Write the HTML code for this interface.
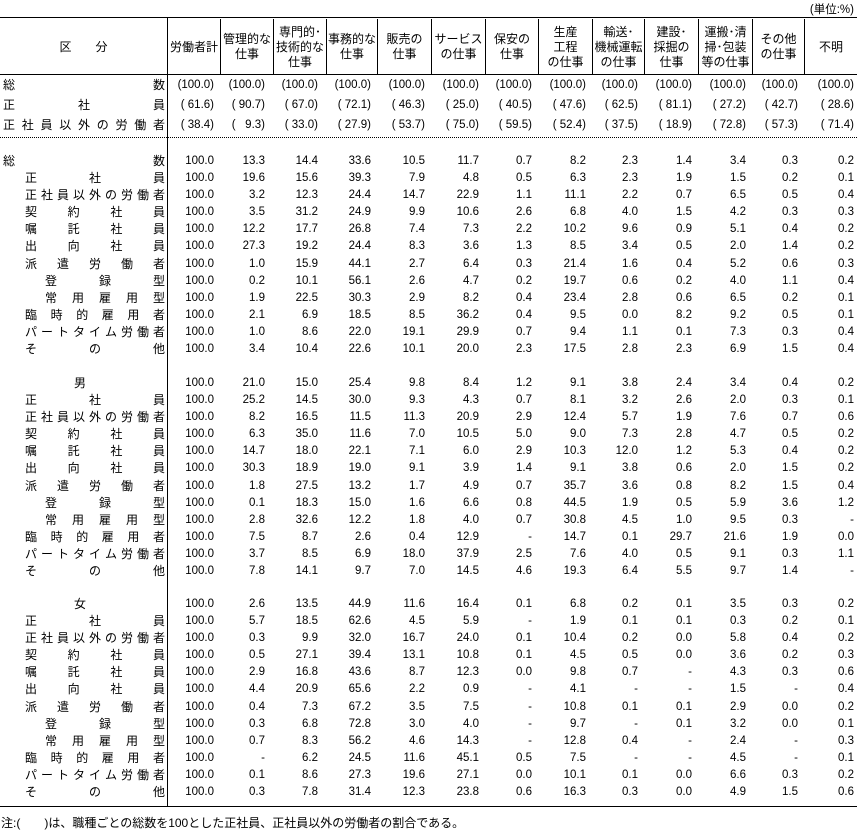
<!DOCTYPE html>
<html><head><meta charset="utf-8"><style>
*{margin:0;padding:0;box-sizing:border-box}
body{width:857px;height:834px;background:#fff;position:relative;overflow:hidden;font-family:"Liberation Sans","Noto Sans CJK JP",sans-serif;color:#000}
.hl{position:absolute;left:0;width:857px;border-top:1.5px solid #000}
.h{position:absolute;top:19px;height:56px;display:flex;align-items:center;justify-content:center;text-align:center;font-size:12px;line-height:15px;border-left:1px solid #000}
.r{position:absolute;left:0;height:17px;line-height:17px;font-size:11.5px;white-space:pre;width:857px}
.r b{position:absolute;font-weight:normal;font-size:12px;text-align:justify;text-align-last:justify;white-space:normal;height:17px;overflow:hidden}
.a{left:3px;width:162px}.b{left:25px;width:140px}.c{left:45px;width:120px}.m{left:74px;width:20px;text-align:left!important;text-align-last:auto!important}
.r i{font-style:normal;position:absolute;top:0;text-align:right;padding-right:6px}
.r i:nth-of-type(1){left:167px;width:53px}
.r i:nth-of-type(2){left:220px;width:53px;padding-right:8px}
.r i:nth-of-type(3){left:273px;width:53px;padding-right:8px}
.r i:nth-of-type(4){left:326px;width:51px}
.r i:nth-of-type(5){left:377px;width:54px}
.r i:nth-of-type(6){left:431px;width:54px}
.r i:nth-of-type(7){left:485px;width:53px}
.r i:nth-of-type(8){left:538px;width:54px}
.r i:nth-of-type(9){left:592px;width:52px}
.r i:nth-of-type(10){left:644px;width:54px}
.r i:nth-of-type(11){left:698px;width:54px}
.r i:nth-of-type(12){left:752px;width:52px}
.r i:nth-of-type(13){left:804px;width:53px;padding-right:3px}
</style></head><body>
<div style="position:absolute;right:3px;top:1px;font-size:11.5px">(単位:%)</div>
<div class="hl" style="top:17px"></div>
<div class="hl" style="top:74px;border-top-width:1px"></div>
<div style="position:absolute;left:0;top:137px;width:857px;border-top:1px dotted #000"></div>
<div class="hl" style="top:806px;border-top-width:1px"></div>
<div style="position:absolute;left:167px;top:18px;height:789px;border-left:1px solid #000"></div>
<div class="h" style="left:0;width:167px;border-left:none">区　　分</div>
<div class="h" style="left:167px;width:53px">労働者計</div>
<div class="h" style="left:220px;width:53px">管理的な<br>仕事</div>
<div class="h" style="left:273px;width:53px">専門的･<br>技術的な<br>仕事</div>
<div class="h" style="left:326px;width:51px">事務的な<br>仕事</div>
<div class="h" style="left:377px;width:54px">販売の<br>仕事</div>
<div class="h" style="left:431px;width:54px">サービス<br>の仕事</div>
<div class="h" style="left:485px;width:53px">保安の<br>仕事</div>
<div class="h" style="left:538px;width:54px">生産<br>工程<br>の仕事</div>
<div class="h" style="left:592px;width:52px">輸送･<br>機械運転<br>の仕事</div>
<div class="h" style="left:644px;width:54px">建設･<br>採掘の<br>仕事</div>
<div class="h" style="left:698px;width:54px">運搬･清<br>掃･包装<br>等の仕事</div>
<div class="h" style="left:752px;width:52px">その他<br>の仕事</div>
<div class="h" style="left:804px;width:53px">不明</div>

<div class="r" style="top:77px"><b class="a">総 数</b><i>(100.0)</i><i>(100.0)</i><i>(100.0)</i><i>(100.0)</i><i>(100.0)</i><i>(100.0)</i><i>(100.0)</i><i>(100.0)</i><i>(100.0)</i><i>(100.0)</i><i>(100.0)</i><i>(100.0)</i><i>(100.0)</i></div>
<div class="r" style="top:97px"><b class="a">正 社 員</b><i>( 61.6)</i><i>( 90.7)</i><i>( 67.0)</i><i>( 72.1)</i><i>( 46.3)</i><i>( 25.0)</i><i>( 40.5)</i><i>( 47.6)</i><i>( 62.5)</i><i>( 81.1)</i><i>( 27.2)</i><i>( 42.7)</i><i>( 28.6)</i></div>
<div class="r" style="top:117px"><b class="a">正 社 員 以 外 の 労 働 者</b><i>( 38.4)</i><i>(   9.3)</i><i>( 33.0)</i><i>( 27.9)</i><i>( 53.7)</i><i>( 75.0)</i><i>( 59.5)</i><i>( 52.4)</i><i>( 37.5)</i><i>( 18.9)</i><i>( 72.8)</i><i>( 57.3)</i><i>( 71.4)</i></div>

<div class="r" style="top:153px"><b class="a">総 数</b><i>100.0</i><i>13.3</i><i>14.4</i><i>33.6</i><i>10.5</i><i>11.7</i><i>0.7</i><i>8.2</i><i>2.3</i><i>1.4</i><i>3.4</i><i>0.3</i><i>0.2</i></div>
<div class="r" style="top:170px"><b class="b">正 社 員</b><i>100.0</i><i>19.6</i><i>15.6</i><i>39.3</i><i>7.9</i><i>4.8</i><i>0.5</i><i>6.3</i><i>2.3</i><i>1.9</i><i>1.5</i><i>0.2</i><i>0.1</i></div>
<div class="r" style="top:187px"><b class="b">正 社 員 以 外 の 労 働 者</b><i>100.0</i><i>3.2</i><i>12.3</i><i>24.4</i><i>14.7</i><i>22.9</i><i>1.1</i><i>11.1</i><i>2.2</i><i>0.7</i><i>6.5</i><i>0.5</i><i>0.4</i></div>
<div class="r" style="top:204px"><b class="b">契 約 社 員</b><i>100.0</i><i>3.5</i><i>31.2</i><i>24.9</i><i>9.9</i><i>10.6</i><i>2.6</i><i>6.8</i><i>4.0</i><i>1.5</i><i>4.2</i><i>0.3</i><i>0.3</i></div>
<div class="r" style="top:221px"><b class="b">嘱 託 社 員</b><i>100.0</i><i>12.2</i><i>17.7</i><i>26.8</i><i>7.4</i><i>7.3</i><i>2.2</i><i>10.2</i><i>9.6</i><i>0.9</i><i>5.1</i><i>0.4</i><i>0.2</i></div>
<div class="r" style="top:238px"><b class="b">出 向 社 員</b><i>100.0</i><i>27.3</i><i>19.2</i><i>24.4</i><i>8.3</i><i>3.6</i><i>1.3</i><i>8.5</i><i>3.4</i><i>0.5</i><i>2.0</i><i>1.4</i><i>0.2</i></div>
<div class="r" style="top:256px"><b class="b">派 遣 労 働 者</b><i>100.0</i><i>1.0</i><i>15.9</i><i>44.1</i><i>2.7</i><i>6.4</i><i>0.3</i><i>21.4</i><i>1.6</i><i>0.4</i><i>5.2</i><i>0.6</i><i>0.3</i></div>
<div class="r" style="top:273px"><b class="c">登 録 型</b><i>100.0</i><i>0.2</i><i>10.1</i><i>56.1</i><i>2.6</i><i>4.7</i><i>0.2</i><i>19.7</i><i>0.6</i><i>0.2</i><i>4.0</i><i>1.1</i><i>0.4</i></div>
<div class="r" style="top:290px"><b class="c">常 用 雇 用 型</b><i>100.0</i><i>1.9</i><i>22.5</i><i>30.3</i><i>2.9</i><i>8.2</i><i>0.4</i><i>23.4</i><i>2.8</i><i>0.6</i><i>6.5</i><i>0.2</i><i>0.1</i></div>
<div class="r" style="top:307px"><b class="b">臨 時 的 雇 用 者</b><i>100.0</i><i>2.1</i><i>6.9</i><i>18.5</i><i>8.5</i><i>36.2</i><i>0.4</i><i>9.5</i><i>0.0</i><i>8.2</i><i>9.2</i><i>0.5</i><i>0.1</i></div>
<div class="r" style="top:324px"><b class="b">パ ー ト タ イ ム 労 働 者</b><i>100.0</i><i>1.0</i><i>8.6</i><i>22.0</i><i>19.1</i><i>29.9</i><i>0.7</i><i>9.4</i><i>1.1</i><i>0.1</i><i>7.3</i><i>0.3</i><i>0.4</i></div>
<div class="r" style="top:341px"><b class="b">そ の 他</b><i>100.0</i><i>3.4</i><i>10.4</i><i>22.6</i><i>10.1</i><i>20.0</i><i>2.3</i><i>17.5</i><i>2.8</i><i>2.3</i><i>6.9</i><i>1.5</i><i>0.4</i></div>

<div class="r" style="top:375px"><b class="m">男</b><i>100.0</i><i>21.0</i><i>15.0</i><i>25.4</i><i>9.8</i><i>8.4</i><i>1.2</i><i>9.1</i><i>3.8</i><i>2.4</i><i>3.4</i><i>0.4</i><i>0.2</i></div>
<div class="r" style="top:392px"><b class="b">正 社 員</b><i>100.0</i><i>25.2</i><i>14.5</i><i>30.0</i><i>9.3</i><i>4.3</i><i>0.7</i><i>8.1</i><i>3.2</i><i>2.6</i><i>2.0</i><i>0.3</i><i>0.1</i></div>
<div class="r" style="top:409px"><b class="b">正 社 員 以 外 の 労 働 者</b><i>100.0</i><i>8.2</i><i>16.5</i><i>11.5</i><i>11.3</i><i>20.9</i><i>2.9</i><i>12.4</i><i>5.7</i><i>1.9</i><i>7.6</i><i>0.7</i><i>0.6</i></div>
<div class="r" style="top:426px"><b class="b">契 約 社 員</b><i>100.0</i><i>6.3</i><i>35.0</i><i>11.6</i><i>7.0</i><i>10.5</i><i>5.0</i><i>9.0</i><i>7.3</i><i>2.8</i><i>4.7</i><i>0.5</i><i>0.2</i></div>
<div class="r" style="top:443px"><b class="b">嘱 託 社 員</b><i>100.0</i><i>14.7</i><i>18.0</i><i>22.1</i><i>7.1</i><i>6.0</i><i>2.9</i><i>10.3</i><i>12.0</i><i>1.2</i><i>5.3</i><i>0.4</i><i>0.2</i></div>
<div class="r" style="top:460px"><b class="b">出 向 社 員</b><i>100.0</i><i>30.3</i><i>18.9</i><i>19.0</i><i>9.1</i><i>3.9</i><i>1.4</i><i>9.1</i><i>3.8</i><i>0.6</i><i>2.0</i><i>1.5</i><i>0.2</i></div>
<div class="r" style="top:478px"><b class="b">派 遣 労 働 者</b><i>100.0</i><i>1.8</i><i>27.5</i><i>13.2</i><i>1.7</i><i>4.9</i><i>0.7</i><i>35.7</i><i>3.6</i><i>0.8</i><i>8.2</i><i>1.5</i><i>0.4</i></div>
<div class="r" style="top:495px"><b class="c">登 録 型</b><i>100.0</i><i>0.1</i><i>18.3</i><i>15.0</i><i>1.6</i><i>6.6</i><i>0.8</i><i>44.5</i><i>1.9</i><i>0.5</i><i>5.9</i><i>3.6</i><i>1.2</i></div>
<div class="r" style="top:512px"><b class="c">常 用 雇 用 型</b><i>100.0</i><i>2.8</i><i>32.6</i><i>12.2</i><i>1.8</i><i>4.0</i><i>0.7</i><i>30.8</i><i>4.5</i><i>1.0</i><i>9.5</i><i>0.3</i><i>-</i></div>
<div class="r" style="top:529px"><b class="b">臨 時 的 雇 用 者</b><i>100.0</i><i>7.5</i><i>8.7</i><i>2.6</i><i>0.4</i><i>12.9</i><i>-</i><i>14.7</i><i>0.1</i><i>29.7</i><i>21.6</i><i>1.9</i><i>0.0</i></div>
<div class="r" style="top:546px"><b class="b">パ ー ト タ イ ム 労 働 者</b><i>100.0</i><i>3.7</i><i>8.5</i><i>6.9</i><i>18.0</i><i>37.9</i><i>2.5</i><i>7.6</i><i>4.0</i><i>0.5</i><i>9.1</i><i>0.3</i><i>1.1</i></div>
<div class="r" style="top:563px"><b class="b">そ の 他</b><i>100.0</i><i>7.8</i><i>14.1</i><i>9.7</i><i>7.0</i><i>14.5</i><i>4.6</i><i>19.3</i><i>6.4</i><i>5.5</i><i>9.7</i><i>1.4</i><i>-</i></div>

<div class="r" style="top:596px"><b class="m">女</b><i>100.0</i><i>2.6</i><i>13.5</i><i>44.9</i><i>11.6</i><i>16.4</i><i>0.1</i><i>6.8</i><i>0.2</i><i>0.1</i><i>3.5</i><i>0.3</i><i>0.2</i></div>
<div class="r" style="top:613px"><b class="b">正 社 員</b><i>100.0</i><i>5.7</i><i>18.5</i><i>62.6</i><i>4.5</i><i>5.9</i><i>-</i><i>1.9</i><i>0.1</i><i>0.1</i><i>0.3</i><i>0.2</i><i>0.1</i></div>
<div class="r" style="top:630px"><b class="b">正 社 員 以 外 の 労 働 者</b><i>100.0</i><i>0.3</i><i>9.9</i><i>32.0</i><i>16.7</i><i>24.0</i><i>0.1</i><i>10.4</i><i>0.2</i><i>0.0</i><i>5.8</i><i>0.4</i><i>0.2</i></div>
<div class="r" style="top:647px"><b class="b">契 約 社 員</b><i>100.0</i><i>0.5</i><i>27.1</i><i>39.4</i><i>13.1</i><i>10.8</i><i>0.1</i><i>4.5</i><i>0.5</i><i>0.0</i><i>3.6</i><i>0.2</i><i>0.3</i></div>
<div class="r" style="top:664px"><b class="b">嘱 託 社 員</b><i>100.0</i><i>2.9</i><i>16.8</i><i>43.6</i><i>8.7</i><i>12.3</i><i>0.0</i><i>9.8</i><i>0.7</i><i>-</i><i>4.3</i><i>0.3</i><i>0.6</i></div>
<div class="r" style="top:681px"><b class="b">出 向 社 員</b><i>100.0</i><i>4.4</i><i>20.9</i><i>65.6</i><i>2.2</i><i>0.9</i><i>-</i><i>4.1</i><i>-</i><i>-</i><i>1.5</i><i>-</i><i>0.4</i></div>
<div class="r" style="top:699px"><b class="b">派 遣 労 働 者</b><i>100.0</i><i>0.4</i><i>7.3</i><i>67.2</i><i>3.5</i><i>7.5</i><i>-</i><i>10.8</i><i>0.1</i><i>0.1</i><i>2.9</i><i>0.0</i><i>0.2</i></div>
<div class="r" style="top:716px"><b class="c">登 録 型</b><i>100.0</i><i>0.3</i><i>6.8</i><i>72.8</i><i>3.0</i><i>4.0</i><i>-</i><i>9.7</i><i>-</i><i>0.1</i><i>3.2</i><i>0.0</i><i>0.1</i></div>
<div class="r" style="top:733px"><b class="c">常 用 雇 用 型</b><i>100.0</i><i>0.7</i><i>8.3</i><i>56.2</i><i>4.6</i><i>14.3</i><i>-</i><i>12.8</i><i>0.4</i><i>-</i><i>2.4</i><i>-</i><i>0.3</i></div>
<div class="r" style="top:750px"><b class="b">臨 時 的 雇 用 者</b><i>100.0</i><i>-</i><i>6.2</i><i>24.5</i><i>11.6</i><i>45.1</i><i>0.5</i><i>7.5</i><i>-</i><i>-</i><i>4.5</i><i>-</i><i>0.1</i></div>
<div class="r" style="top:767px"><b class="b">パ ー ト タ イ ム 労 働 者</b><i>100.0</i><i>0.1</i><i>8.6</i><i>27.3</i><i>19.6</i><i>27.1</i><i>0.0</i><i>10.1</i><i>0.1</i><i>0.0</i><i>6.6</i><i>0.3</i><i>0.2</i></div>
<div class="r" style="top:784px"><b class="b">そ の 他</b><i>100.0</i><i>0.3</i><i>7.8</i><i>31.4</i><i>12.3</i><i>23.8</i><i>0.6</i><i>16.3</i><i>0.3</i><i>0.0</i><i>4.9</i><i>1.5</i><i>0.6</i></div>

<div style="position:absolute;left:1px;top:814px;font-size:12px;white-space:pre">注:(　　)は、職種ごとの総数を100とした正社員、正社員以外の労働者の割合である。</div>
</body></html>
